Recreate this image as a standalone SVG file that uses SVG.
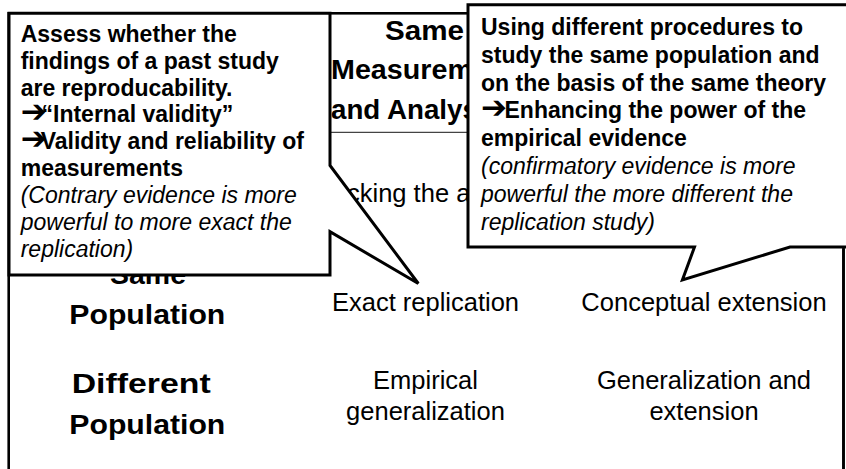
<svg xmlns="http://www.w3.org/2000/svg" width="846" height="469" viewBox="0 0 846 469">
<style>
.t{font-family:"Liberation Sans",Arial,sans-serif;fill:#000}
.b{font-weight:bold}
.i{font-style:italic}
.r25{font-size:25.5px}
.hd{font-size:27px;font-weight:bold}
.co{font-size:23px}
.ar{font-family:"DejaVu Sans",sans-serif;font-size:31px;font-weight:bold}
.callout{fill:#fff;stroke:#000;stroke-width:3;stroke-linejoin:miter}
.mid{text-anchor:middle}
</style>
<rect width="846" height="469" fill="#fff"/>
<g id="table">
  <rect x="8.7" y="13.3" width="834.8" height="480" fill="#fff" stroke="#000" stroke-width="2.6"/>
  <line x1="8.7" y1="132.3" x2="843.5" y2="132.3" stroke="#444" stroke-width="1.2"/>
</g>
<g id="header-same-measurement">
  <text class="t hd" x="385" y="39.5" textLength="79" lengthAdjust="spacingAndGlyphs">Same</text>
  <text class="t hd" x="331" y="79.3" textLength="185" lengthAdjust="spacingAndGlyphs">Measurement</text>
  <text class="t hd" x="331" y="119" textLength="170" lengthAdjust="spacingAndGlyphs">and Analysis</text>
</g>
<g id="header-checking">
  <text class="t r25" x="347" y="202">cking the a</text>
</g>
<g id="row-same-population">
  <text class="t hd" x="110" y="284" textLength="76" lengthAdjust="spacingAndGlyphs">Same</text>
  <text class="t hd" x="69.3" y="324" textLength="156" lengthAdjust="spacingAndGlyphs">Population</text>
</g>
<g id="row-different-population">
  <text class="t hd" x="71.7" y="393.3" textLength="139" lengthAdjust="spacingAndGlyphs">Different</text>
  <text class="t hd" x="69.3" y="433.5" textLength="156" lengthAdjust="spacingAndGlyphs">Population</text>
</g>
<g id="cell-exact-replication">
  <text class="t r25 mid" x="425.5" y="311">Exact replication</text>
</g>
<g id="cell-conceptual-extension">
  <text class="t r25 mid" x="704" y="311">Conceptual extension</text>
</g>
<g id="cell-empirical-generalization">
  <text class="t r25 mid" x="425.5" y="389.3">Empirical</text>
  <text class="t r25 mid" x="425.5" y="419.5">generalization</text>
</g>
<g id="cell-generalization-extension">
  <text class="t r25 mid" x="704" y="389.3">Generalization and</text>
  <text class="t r25 mid" x="704" y="419.5">extension</text>
</g>
<g id="callout-exact">
  <path class="callout" d="M9,13.3 L330,13.3 L330,165.5 L418.3,283.5 L330,231.7 L330,275 L9,275 Z"/>
  <text class="t b co" x="20.7" y="41.7">Assess whether the</text>
  <text class="t b co" x="20.7" y="68.6">findings of a past study</text>
  <text class="t b co" x="20.7" y="95.5">are reproducability.</text>
  <text class="t b co" x="20.7" y="122.4"><tspan class="ar" dy="-0.5">➔</tspan><tspan x="41.5" dy="0.5">“Internal validity”</tspan></text>
  <text class="t b co" x="20.7" y="149.3"><tspan class="ar" dy="-0.5">➔</tspan><tspan x="40.7" dy="0.5">Validity and reliability of</tspan></text>
  <text class="t b co" x="20.7" y="176.2">measurements</text>
  <text class="t i co" x="20.7" y="203.1">(Contrary evidence is more</text>
  <text class="t i co" x="20.7" y="230">powerful to more exact the</text>
  <text class="t i co" x="20.7" y="256.9">replication)</text>
</g>
<g id="callout-conceptual">
  <path class="callout" d="M468,4.8 L870,4.8 L870,247 L790,247 L682.4,280 L694.5,247 L468,247 Z"/>
  <text class="t b co" x="481" y="35">Using different procedures to</text>
  <text class="t b co" x="481" y="62.8">study the same population and</text>
  <text class="t b co" x="481" y="90.6">on the basis of the same theory</text>
  <text class="t b co" x="481" y="118.4"><tspan class="ar" dy="-0.5">➔</tspan><tspan x="504.5" dy="0.5">Enhancing the power of the</tspan></text>
  <text class="t b co" x="481" y="146.2">empirical evidence</text>
  <text class="t i co" x="481" y="174">(confirmatory evidence is more</text>
  <text class="t i co" x="481" y="201.8">powerful the more different the</text>
  <text class="t i co" x="481" y="229.6">replication study)</text>
</g>
<line x1="843.5" y1="248.5" x2="843.5" y2="469" stroke="#000" stroke-width="2.6"/>
</svg>
